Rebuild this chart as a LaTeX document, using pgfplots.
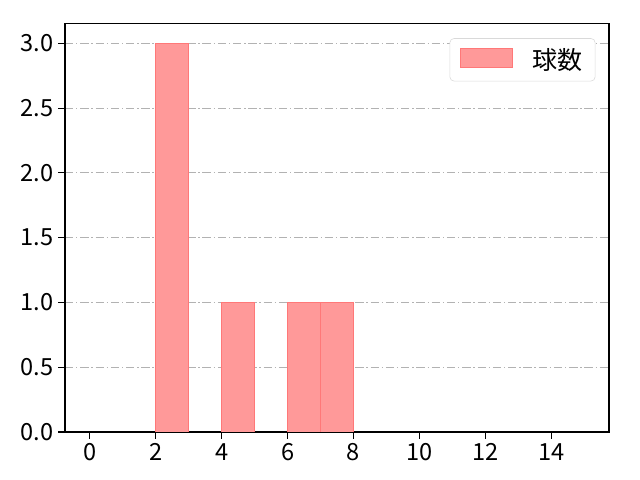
\documentclass[border=0pt]{standalone}
\usepackage{pgfplots}
\pgfplotsset{compat=1.18}
\usepackage{fontspec}
\setmainfont{Noto Sans CJK JP}
\definecolor{barfill}{RGB}{255,153,153}
\definecolor{baredge}{RGB}{255,120,120}
\begin{document}
\begin{tikzpicture}[x=1pt,y=1pt]
\path[use as bounding box] (-46.8,-34.56) rectangle (414,311.04);
\begin{axis}[
  at={(0,0)}, anchor=south west,
  scale only axis,
  width=391.7pt, height=293.8pt,
  xmin=-0.75, xmax=15.75,
  ymin=0, ymax=3.15,
  xtick={0,2,...,14},
  ytick={0,0.5,...,3.0},
  yticklabel style={/pgf/number format/fixed,/pgf/number format/fixed zerofill,/pgf/number format/precision=1},
  /pgf/number format/assume math mode=true,
  tick label style={font=\fontsize{17pt}{19pt}\selectfont},
  tick align=outside,
  major tick length=5pt,
  tick style={black, line width=0.8pt},
  xtick pos=bottom, ytick pos=left,
  axis line style={line width=0.8pt},
  ymajorgrids,
  grid style={gray!60, line width=0.6pt, dash pattern=on 6pt off 2pt on 1pt off 2pt},
  legend style={at={(0.975,0.965)}, anchor=north east, draw=gray!30, rounded corners=3pt,
    font=\fontsize{18pt}{20pt}\selectfont, inner xsep=7pt, inner ysep=5pt},
  legend cell align=left,
  legend image code/.code={\draw[#1, sharp corners] (0pt,-5.5pt) rectangle (38pt,8pt);},
]
\addplot[ybar, bar width=1, fill=barfill, draw=baredge, line width=0.6pt] coordinates {
(2.5,3) (4.5,1) (6.5,1) (7.5,1)
};
\addlegendentry{\hspace{12pt}球数}
\end{axis}
\end{tikzpicture}
\end{document}
